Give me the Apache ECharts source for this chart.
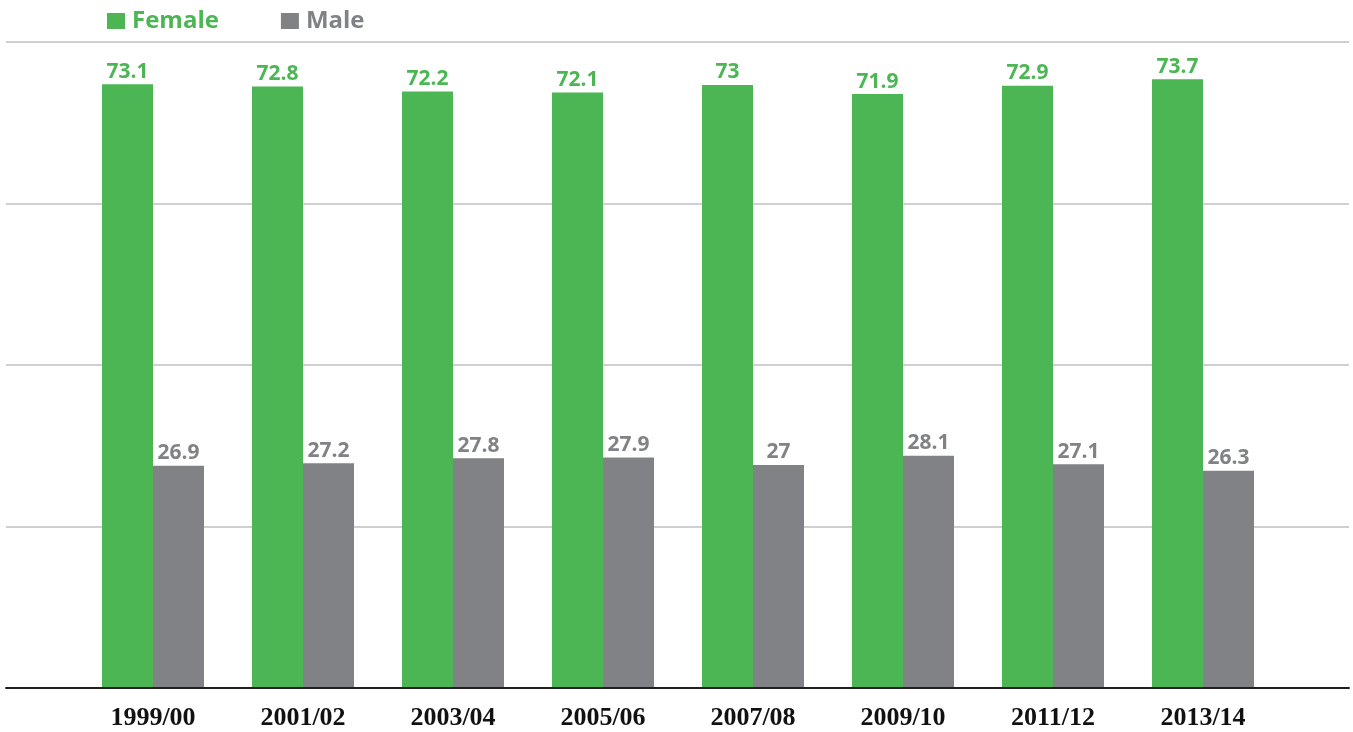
<!DOCTYPE html>
<html>
<head>
<meta charset="utf-8">
<style>
  html, body { margin: 0; padding: 0; background: #fff; }
  #chart { width: 1353px; height: 732px; }
</style>
<script src="https://cdn.jsdelivr.net/npm/echarts@6/dist/echarts.min.js"></script>
</head>
<body>
<div id="chart"></div>
<script>
const years = ['1999/00', '2001/02', '2003/04', '2005/06', '2007/08', '2009/10', '2011/12', '2013/14'];
const female = [73.1, 72.8, 72.2, 72.1, 73, 71.9, 72.9, 73.7];
const male = [26.9, 27.2, 27.8, 27.9, 27, 28.1, 27.1, 26.3];
const gridTicks = [0, 20, 40, 60, 80];

const green = '#4bb653';
const grey = '#818285';

const myChart = echarts.init(document.getElementById('chart'));

const labelStyle = (color) => ({
  show: true,
  position: 'top',
  distance: 2,
  color: color,
  fontFamily: 'Open Sans',
  fontWeight: 'bold',
  fontSize: 21
});

const option = {
  animation: false,
  legend: {
    left: 102,
    top: 4,
    itemWidth: 18,
    itemHeight: 16,
    itemGap: 62,
    icon: 'rect',
    selectedMode: false,
    textStyle: {
      fontFamily: 'Open Sans',
      fontWeight: 'bold',
      fontSize: 24,
      padding: [0, 0, 0, 2]
    },
    data: [
      { name: 'Female', textStyle: { color: green } },
      { name: 'Male', textStyle: { color: grey } }
    ]
  },
  grid: [
    // wide grid: gridlines + baseline
    { left: 6, right: 4, top: 42, bottom: 44 },
    // bar grid
    { left: 78, right: 75, top: 42, bottom: 44 }
  ],
  xAxis: [
    {
      gridIndex: 0,
      type: 'value',
      min: 0,
      max: 1,
      z: 5,
      axisLine: { show: true, lineStyle: { color: '#231f20', width: 2 } },
      axisTick: { show: false },
      axisLabel: { show: false },
      splitLine: { show: false }
    },
    {
      gridIndex: 1,
      type: 'category',
      data: years,
      axisLine: { show: false },
      axisTick: { show: false },
      axisLabel: {
        color: '#111',
        fontFamily: 'Liberation Serif',
        fontWeight: 'bold',
        fontSize: 26,
        margin: 17
      }
    }
  ],
  yAxis: [
    {
      gridIndex: 0,
      type: 'value',
      min: gridTicks[0],
      max: gridTicks[gridTicks.length - 1],
      interval: 20,
      axisLine: { show: false },
      axisTick: { show: false },
      axisLabel: { show: false },
      splitLine: { show: true, lineStyle: { color: '#d0d0d0', width: 2 } }
    },
    {
      gridIndex: 1,
      type: 'value',
      min: 0,
      max: 78.2,
      show: false,
      splitLine: { show: false }
    }
  ],
  series: [
    {
      name: 'Female',
      type: 'bar',
      xAxisIndex: 1,
      yAxisIndex: 1,
      data: female,
      barWidth: 51,
      barGap: '0%',
      itemStyle: { color: green },
      label: labelStyle(green)
    },
    {
      name: 'Male',
      type: 'bar',
      xAxisIndex: 1,
      yAxisIndex: 1,
      data: male,
      barWidth: 51,
      barGap: '0%',
      itemStyle: { color: grey },
      label: labelStyle(grey)
    }
  ]
};

myChart.setOption(option);
</script>
</body>
</html>
